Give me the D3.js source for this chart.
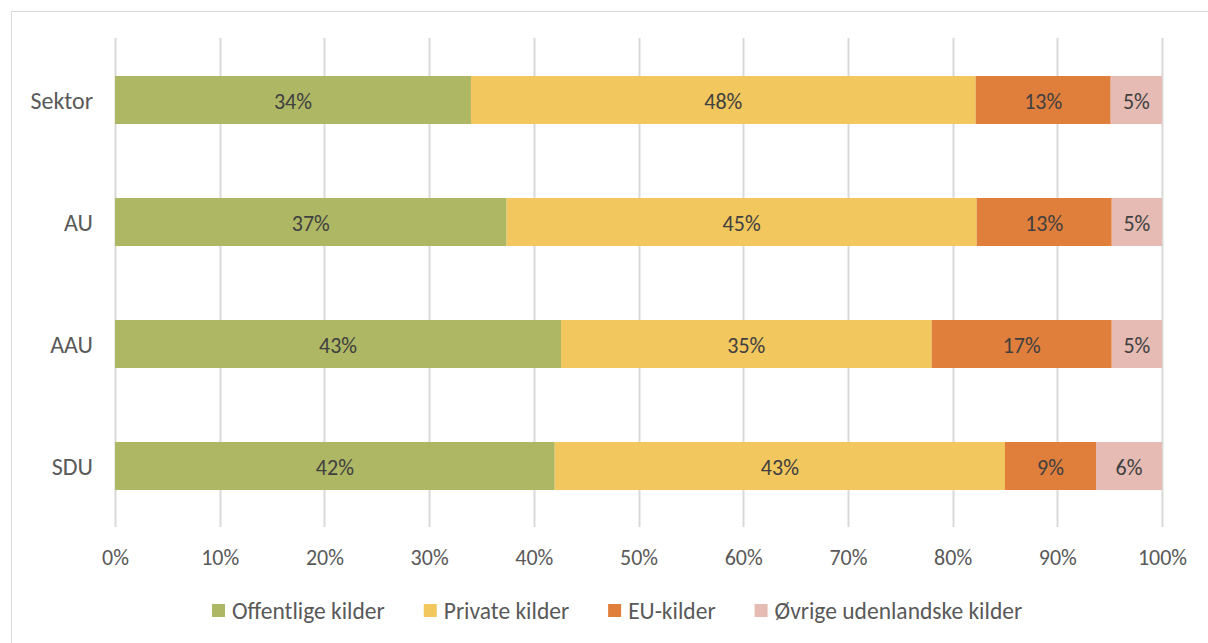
<!DOCTYPE html>
<html><head><meta charset="utf-8">
<script src="https://cdn.jsdelivr.net/npm/d3@7"></script>
<style>
html,body{margin:0;padding:0;background:#fff;}
svg{display:block;}
text{font-family:Carlito,Calibri,Lato,sans-serif;fill:#595959;}
</style></head>
<body><svg id="c" width="1208" height="643"></svg>
<script>
const categories = ["Sektor","AU","AAU","SDU"];
const seriesNames = ["Offentlige kilder","Private kilder","EU-kilder","Øvrige udenlandske kilder"];
const offentlige = [34.0, 37.4, 42.6, 42.0];
const private_ = [48.2, 44.9, 35.4, 43.0];
const eu = [12.9, 12.9, 17.2, 8.7];
const ovrige = [4.9, 4.8, 4.8, 6.3];
const tickValues = [0,10,20,30,40,50,60,70,80,90,100];
const colors = ["#AEB864","#F1C75E","#E07E3C","#E5BBB4"];

const seriesData = [offentlige, private_, eu, ovrige];
const rows = categories.map((c,i)=>{
  const r = {cat:c};
  seriesNames.forEach((s,j)=>r[s]=seriesData[j][i]);
  return r;
});

const svg = d3.select("#c");
svg.append("rect").attr("x",11.5).attr("y",11.5).attr("width",1200).attr("height",640)
  .attr("fill","#fff").attr("stroke","#d9d9d9").attr("stroke-width",1);

const x = d3.scaleLinear().domain([0,100]).range([115,1162]);
const y = d3.scaleBand().domain(categories).range([39,527]).paddingInner(74/122).paddingOuter(74/122/2);

// gridlines
svg.append("g").selectAll("line").data(tickValues).join("line")
  .attr("x1",d=>Math.round(x(d))+0.5).attr("x2",d=>Math.round(x(d))+0.5)
  .attr("y1",38).attr("y2",527)
  .attr("stroke","#d9d9d9").attr("stroke-width",2);

const stack = d3.stack().keys(seriesNames)(rows);
const g = svg.append("g");
stack.forEach((layer,j)=>{
  g.append("g").selectAll("rect").data(layer).join("rect")
    .attr("x",d=>x(d[0])).attr("width",d=>x(d[1])-x(d[0]))
    .attr("y",d=>y(d.data.cat)).attr("height",y.bandwidth())
    .attr("fill",colors[j]);
  g.append("g").selectAll("text").data(layer).join("text")
    .attr("x",d=>(x(d[0])+x(d[1]))/2).attr("y",d=>y(d.data.cat)+y.bandwidth()/2+1)
    .attr("text-anchor","middle").attr("dominant-baseline","central")
    .style("font-size","22px").style("fill","#404040")
    .text(d=>Math.round(d[1]-d[0])+"%");
});

// y labels
svg.append("g").selectAll("text").data(categories).join("text")
  .attr("x",93).attr("y",d=>y(d)+y.bandwidth()/2)
  .attr("text-anchor","end").attr("dominant-baseline","central")
  .style("font-size","24px").text(d=>d);

// x axis labels
const xAxis = d3.axisBottom(x).tickValues(tickValues).tickFormat(d=>d+"%").tickSize(0).tickPadding(0);
const ax = svg.append("g").attr("transform","translate(0,557)").call(xAxis);
ax.select(".domain").remove();
ax.selectAll("text").attr("dy",null).attr("dominant-baseline","central").style("font-size","22px").style("fill","#595959").style("font-family",null);

// legend
const leg = svg.append("g").attr("transform","translate(0,611)");
let cx = 212;
seriesNames.forEach((s,j)=>{
  const it = leg.append("g").attr("transform",`translate(${cx},0)`);
  it.append("rect").attr("x",0).attr("y",-7).attr("width",13).attr("height",13).attr("fill",colors[j]);
  const t = it.append("text").attr("x",20).attr("y",0).attr("dominant-baseline","central").style("font-size","23.5px").text(s);
  cx += 20 + t.node().getComputedTextLength() + 39;
});
</script></body></html>
